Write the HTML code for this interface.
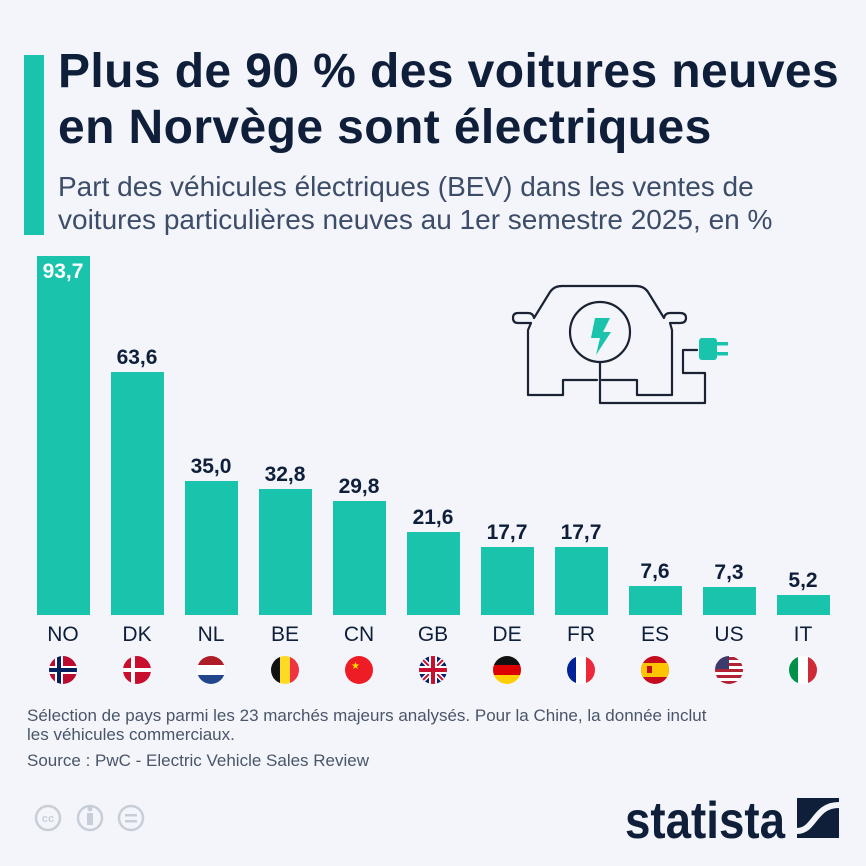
<!DOCTYPE html>
<html><head><meta charset="utf-8"><style>
body{margin:0;width:866px;height:866px;background:#f3f5fb;font-family:"Liberation Sans",sans-serif;position:relative;overflow:hidden}
.acc{position:absolute;left:24px;top:55px;width:20px;height:180px;background:#19c3ac}
.t{position:absolute;left:58px;top:44px;font-size:48px;font-weight:bold;color:#0f1f3a;line-height:56px;letter-spacing:0.4px;white-space:nowrap}
.s{position:absolute;left:58px;top:170px;font-size:28px;color:#3d4d68;line-height:33px;white-space:nowrap}
.bar{position:absolute;width:53px;background:#19c3ac}
.v{position:absolute;width:80px;text-align:center;font-size:21px;font-weight:bold;color:#0f1f3a}
.c{position:absolute;width:80px;text-align:center;font-size:21px;color:#0f1f3a;top:623px}
.f{position:absolute;left:27px;font-size:17px;color:#4a5568;line-height:19px;white-space:nowrap}
</style></head><body>
<div class="acc"></div>
<div class="t">Plus de 90 % des voitures neuves<br>en Norvège sont électriques</div>
<div class="s">Part des véhicules électriques (BEV) dans les ventes de<br>voitures particulières neuves au 1er semestre 2025, en %</div>
<svg width="866" height="866" style="position:absolute;left:0;top:0">
<g fill="none" stroke="#1a2233" stroke-width="2.2" stroke-linejoin="round" stroke-linecap="round">
<path d="M563 395 H528 V330 L531 323 H518 Q513 323 513 318 Q513 313 518 313 H528 Q533 313 534 318 L550 292 Q554 286 562 286 H636 Q644 286 648 292 L664 318 Q665 313 670 313 H680 Q686 313 686 318 Q686 323 680 323 H670 L672 330 V395 H637 V380 H602"/>
<path d="M563 395 V380 H597"/>
<circle cx="600" cy="332" r="30"/>
<path d="M600 362 V403 H705 V373 H683 V350 H697"/>
</g>
<path d="M595 318 L610 318 L603 332 L611 332 L596 355 L600 338 L591 338 Z" fill="#19c3ac"/>
<rect x="699" y="338" width="18" height="22" rx="3" fill="#19c3ac"/>
<rect x="715" y="342" width="13" height="3.5" fill="#19c3ac"/><rect x="715" y="352" width="13" height="3.5" fill="#19c3ac"/>
<g fill="none" stroke="#c8ced8" stroke-width="2.5">
<circle cx="48" cy="818" r="12"/><circle cx="90" cy="818" r="12"/><circle cx="131" cy="818" r="12"/></g>
<text x="48" y="822" font-size="11" font-weight="bold" fill="#c8ced8" text-anchor="middle" font-family="Liberation Sans">cc</text>
<rect x="87" y="813" width="6" height="12" fill="#c8ced8"/><circle cx="90" cy="809" r="2.5" fill="#c8ced8"/>
<rect x="125" y="814" width="12" height="2.5" fill="#c8ced8"/><rect x="125" y="820" width="12" height="2.5" fill="#c8ced8"/>
<text x="785" y="838" font-size="52" font-weight="bold" fill="#0f1f3a" text-anchor="end" font-family="Liberation Sans Narrow, Liberation Sans" textLength="160" lengthAdjust="spacingAndGlyphs">statista</text>
<rect x="797" y="798" width="42" height="40" fill="#0f1f3a"/>
<path d="M797 831 C815 831 814 805 839 805" stroke="#f3f5fb" stroke-width="6" fill="none"/>
<defs><clipPath id="fc"><circle r="14"/></clipPath></defs>
<g transform="translate(63,670)" clip-path="url(#fc)"><rect x="-15" y="-15" width="30" height="30" fill="#ba0c2f"/><rect x="-15" y="-4" width="30" height="8" fill="#fff"/><rect x="-8" y="-15" width="8" height="30" fill="#fff"/><rect x="-15" y="-2" width="30" height="4" fill="#00205b"/><rect x="-6" y="-15" width="4" height="30" fill="#00205b"/></g>
<g transform="translate(137,670)" clip-path="url(#fc)"><rect x="-15" y="-15" width="30" height="30" fill="#c8102e"/><rect x="-15" y="-2" width="30" height="4" fill="#fff"/><rect x="-6" y="-15" width="4" height="30" fill="#fff"/></g>
<g transform="translate(211,670)" clip-path="url(#fc)"><rect x="-15" y="-15" width="30" height="10" fill="#ae1c28"/><rect x="-15" y="-5" width="30" height="10" fill="#fff"/><rect x="-15" y="5" width="30" height="10" fill="#21468b"/></g>
<g transform="translate(285,670)" clip-path="url(#fc)"><rect x="-15" y="-15" width="10" height="30" fill="#111"/><rect x="-5" y="-15" width="10" height="30" fill="#fdda24"/><rect x="5" y="-15" width="10" height="30" fill="#ef3340"/></g>
<g transform="translate(359,670)" clip-path="url(#fc)"><rect x="-15" y="-15" width="30" height="30" fill="#ee1c25"/><text x="-8" y="-1" font-size="10" fill="#ffde00">★</text></g>
<g transform="translate(433,670)" clip-path="url(#fc)"><rect x="-15" y="-15" width="30" height="30" fill="#012169"/><path d="M-15 -15 L15 15 M15 -15 L-15 15" stroke="#fff" stroke-width="5"/><path d="M-15 -15 L15 15 M15 -15 L-15 15" stroke="#c8102e" stroke-width="2"/><path d="M0 -15 V15 M-15 0 H15" stroke="#fff" stroke-width="8"/><path d="M0 -15 V15 M-15 0 H15" stroke="#c8102e" stroke-width="4"/></g>
<g transform="translate(507,670)" clip-path="url(#fc)"><rect x="-15" y="-15" width="30" height="10" fill="#111"/><rect x="-15" y="-5" width="30" height="10" fill="#dd0000"/><rect x="-15" y="5" width="30" height="10" fill="#ffce00"/></g>
<g transform="translate(581,670)" clip-path="url(#fc)"><rect x="-15" y="-15" width="10" height="30" fill="#002395"/><rect x="-5" y="-15" width="10" height="30" fill="#fff"/><rect x="5" y="-15" width="10" height="30" fill="#ed2939"/></g>
<g transform="translate(655,670)" clip-path="url(#fc)"><rect x="-15" y="-15" width="30" height="30" fill="#c60b1e"/><rect x="-15" y="-7" width="30" height="14" fill="#ffc400"/><rect x="-8" y="-4" width="5" height="7" fill="#c60b1e"/></g>
<g transform="translate(729,670)" clip-path="url(#fc)"><rect x="-15" y="-15" width="30" height="30" fill="#fff"/><g fill="#b22234"><rect x="-15" y="-13" width="30" height="3"/><rect x="-15" y="-7" width="30" height="3"/><rect x="-15" y="-1" width="30" height="3"/><rect x="-15" y="5" width="30" height="3"/><rect x="-15" y="11" width="30" height="3"/></g><rect x="-15" y="-15" width="15" height="14" fill="#3c3b6e"/></g>
<g transform="translate(803,670)" clip-path="url(#fc)"><rect x="-15" y="-15" width="10" height="30" fill="#009246"/><rect x="-5" y="-15" width="10" height="30" fill="#fff"/><rect x="5" y="-15" width="10" height="30" fill="#ce2b37"/></g>
</svg>
<div class="bar" style="left:37px;top:256px;height:359px"></div>
<div class="bar" style="left:111px;top:372px;height:243px"></div>
<div class="bar" style="left:185px;top:481px;height:134px"></div>
<div class="bar" style="left:259px;top:489px;height:126px"></div>
<div class="bar" style="left:333px;top:501px;height:114px"></div>
<div class="bar" style="left:407px;top:532px;height:83px"></div>
<div class="bar" style="left:481px;top:547px;height:68px"></div>
<div class="bar" style="left:555px;top:547px;height:68px"></div>
<div class="bar" style="left:629px;top:586px;height:29px"></div>
<div class="bar" style="left:703px;top:587px;height:28px"></div>
<div class="bar" style="left:777px;top:595px;height:20px"></div>
<div class="v" style="left:23px;top:260px;color:#fff">93,7</div>
<div class="v" style="left:97px;top:346px">63,6</div>
<div class="v" style="left:171px;top:455px">35,0</div>
<div class="v" style="left:245px;top:463px">32,8</div>
<div class="v" style="left:319px;top:475px">29,8</div>
<div class="v" style="left:393px;top:506px">21,6</div>
<div class="v" style="left:467px;top:521px">17,7</div>
<div class="v" style="left:541px;top:521px">17,7</div>
<div class="v" style="left:615px;top:560px">7,6</div>
<div class="v" style="left:689px;top:561px">7,3</div>
<div class="v" style="left:763px;top:569px">5,2</div>
<div class="c" style="left:23px">NO</div><div class="c" style="left:97px">DK</div><div class="c" style="left:171px">NL</div><div class="c" style="left:245px">BE</div><div class="c" style="left:319px">CN</div><div class="c" style="left:393px">GB</div><div class="c" style="left:467px">DE</div><div class="c" style="left:541px">FR</div><div class="c" style="left:615px">ES</div><div class="c" style="left:689px">US</div><div class="c" style="left:763px">IT</div>
<div class="f" style="top:706px">Sélection de pays parmi les 23 marchés majeurs analysés. Pour la Chine, la donnée inclut<br>les véhicules commerciaux.</div>
<div class="f" style="top:751px">Source : PwC - Electric Vehicle Sales Review</div>
</body></html>
